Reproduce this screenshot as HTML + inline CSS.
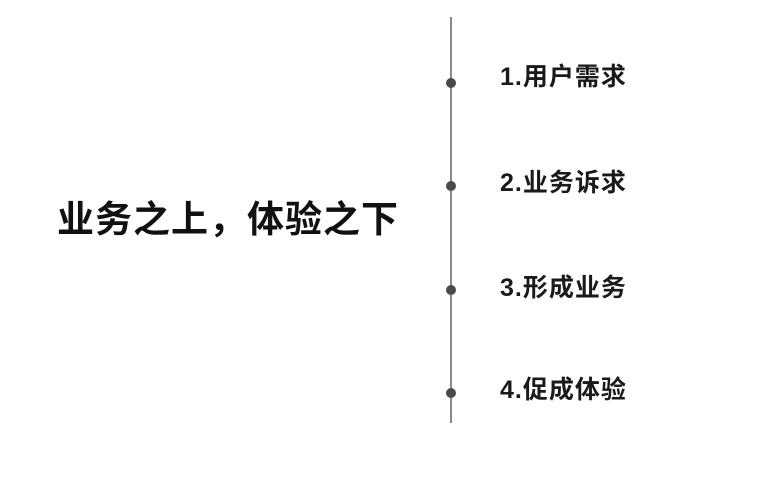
<!DOCTYPE html>
<html><head><meta charset="utf-8"><style>
body{margin:0;width:770px;height:484px;background:#fff;position:relative;overflow:hidden;font-family:"Liberation Sans","Noto Sans CJK SC",sans-serif;}
.t{position:absolute;left:57px;top:198px;font-size:37px;font-weight:bold;color:#111;white-space:nowrap;line-height:44px;letter-spacing:1px}
.l{position:absolute;left:500px;font-size:25px;font-weight:bold;color:#1a1a1a;white-space:nowrap;line-height:28px;letter-spacing:1px}
.line{position:absolute;left:450px;top:17px;width:2px;height:406px;background:#8a8a8a}
.d{position:absolute;left:446px;width:10px;height:10px;border-radius:50%;background:#4a4a4a}
</style></head><body>
<div class="t">业务之上，体验之下</div>
<div class="line"></div>
<div class="d" style="top:78px"></div>
<div class="d" style="top:181px"></div>
<div class="d" style="top:285px"></div>
<div class="d" style="top:388px"></div>
<div class="l" style="top:63px">1.用户需求</div>
<div class="l" style="top:169px">2.业务诉求</div>
<div class="l" style="top:274px">3.形成业务</div>
<div class="l" style="top:376px">4.促成体验</div>
</body></html>
